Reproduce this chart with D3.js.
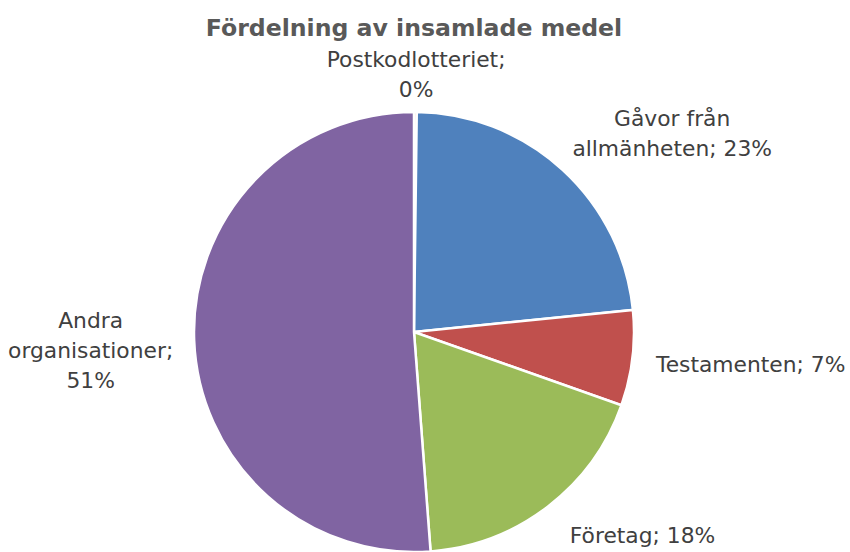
<!DOCTYPE html>
<html>
<head>
<meta charset="utf-8">
<script src="https://cdn.jsdelivr.net/npm/d3@7"></script>
<style>
  body { margin: 0; background: #fff; }
  text { font-family: "DejaVu Sans", Verdana, sans-serif; }
</style>
</head>
<body>
<svg class="chart"></svg>
<script>
// data
var categories = ["Postkodlotteriet", "Gåvor från allmänheten", "Testamenten", "Företag", "Andra organisationer"];
var values = [0.2, 23.2, 7.0, 18.4, 51.2];
var colors = ["#F79646", "#4F81BD", "#C0504D", "#9BBB59", "#8064A2"];

// label line breaks (Excel wraps them)
var labelLines = [
  ["Postkodlotteriet;", "{p}"],
  ["Gåvor från", "allmänheten; {p}"],
  ["Testamenten; {p}"],
  ["Företag; {p}"],
  ["Andra", "organisationer;", "{p}"]
];
// small nudges to mimic Excel's label placement
var labelNudge = [[0, 14], [26, 2], [0, 2], [36, 0], [3, 8]];

var width = 850, height = 552;
var cx = 414, cy = 332, radius = 220;

var svg = d3.select(".chart")
    .attr("width", width)
    .attr("height", height);

svg.append("text")
    .attr("x", 414)
    .attr("y", 36)
    .attr("text-anchor", "middle")
    .style("font-size", "23.6px")
    .style("font-weight", "bold")
    .style("fill", "#595959")
    .text("Fördelning av insamlade medel");

var total = d3.sum(values);
var data = categories.map(function(c, i) {
  return {name: c, value: values[i], color: colors[i], lines: labelLines[i], nudge: labelNudge[i]};
});

var pie = d3.pie()
    .sort(null)
    .value(function(d) { return d.value; });

var arc = d3.arc()
    .innerRadius(0)
    .outerRadius(radius);

var g = svg.append("g")
    .attr("transform", "translate(" + cx + "," + cy + ")");

var arcs = pie(data);

g.selectAll(".slice")
    .data(arcs)
  .enter().append("path")
    .attr("class", "slice")
    .attr("d", arc)
    .style("fill", function(d) { return d.data.color; })
    .style("stroke", "#fff")
    .style("stroke-width", 2.5);

var lineH = 30;
var labels = g.selectAll(".label")
    .data(arcs)
  .enter().append("text")
    .attr("class", "label")
    .attr("text-anchor", "middle")
    .style("font-size", "21.8px")
    .style("fill", "#404040");

labels.each(function(d) {
  var a = (d.startAngle + d.endAngle) / 2;
  var pct = Math.round(d.data.value / total * 100) + "%";
  var lines = d.data.lines.map(function(l) { return l.replace("{p}", pct); });
  var el = d3.select(this);
  lines.forEach(function(l, i) {
    el.append("tspan").attr("x", 0).attr("dy", i ? lineH : 0).text(l);
  });
  var bb = this.getBBox();
  var r = radius + 24;
  var px = r * Math.sin(a), py = -r * Math.cos(a);
  var bx = px + Math.sin(a) * bb.width / 2 + d.data.nudge[0];
  var by = py - Math.cos(a) * bb.height / 2 + d.data.nudge[1];
  // text block center -> first baseline
  var firstBase = by - bb.height / 2 - bb.y;
  el.attr("transform", "translate(" + bx + "," + firstBase + ")");
});
</script>
</body>
</html>
